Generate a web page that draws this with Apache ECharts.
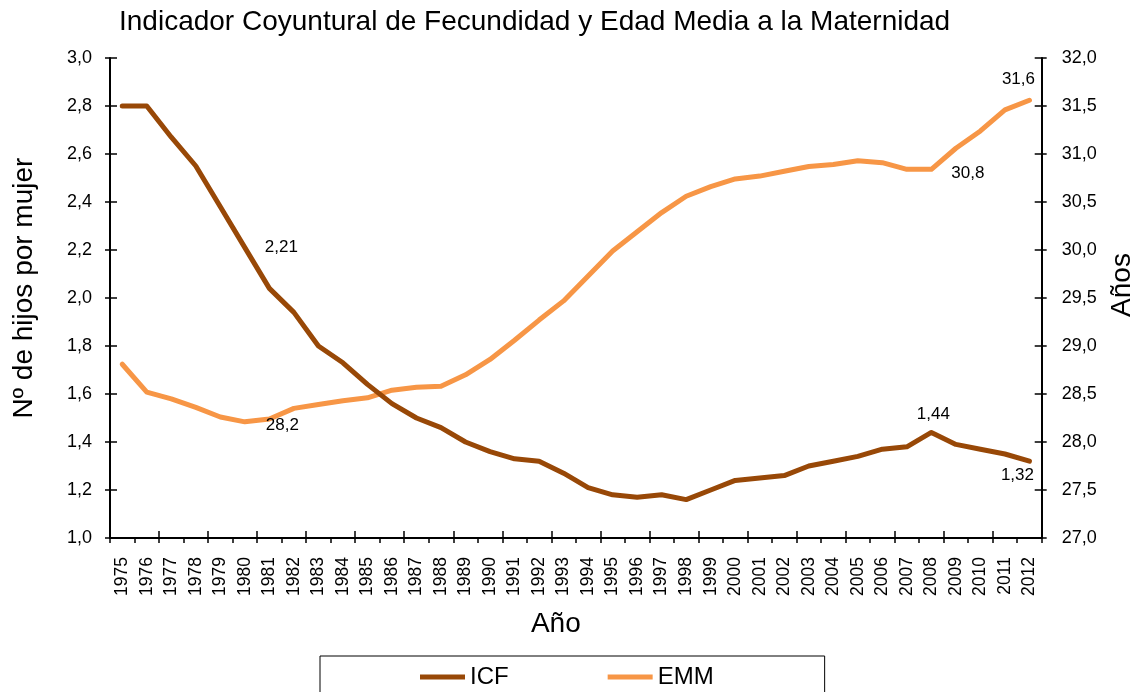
<!DOCTYPE html>
<html>
<head>
<meta charset="utf-8">
<script src="https://cdn.jsdelivr.net/npm/echarts@6/dist/echarts.min.js"></script>
<style>html,body{margin:0;padding:0;background:#fff;overflow:hidden}#c{width:1136px;height:692px}</style>
</head>
<body>
<div id="c"></div>
<script>
const years = ['1975','1976','1977','1978','1979','1980','1981','1982','1983','1984','1985','1986','1987','1988','1989','1990','1991','1992','1993','1994','1995','1996','1997','1998','1999','2000','2001','2002','2003','2004','2005','2006','2007','2008','2009','2010','2011','2012'];
const icf = [2.80,2.80,2.67,2.55,2.38,2.21,2.04,1.94,1.80,1.73,1.64,1.56,1.50,1.46,1.40,1.36,1.33,1.32,1.27,1.21,1.18,1.17,1.18,1.16,1.20,1.24,1.25,1.26,1.30,1.32,1.34,1.37,1.38,1.44,1.39,1.37,1.35,1.32];
const emm = [28.81,28.52,28.45,28.36,28.26,28.21,28.24,28.35,28.39,28.43,28.46,28.54,28.57,28.58,28.70,28.86,29.06,29.27,29.47,29.73,29.99,30.19,30.39,30.56,30.66,30.74,30.77,30.82,30.87,30.89,30.93,30.91,30.84,30.84,31.06,31.24,31.46,31.56];
const icfLabelYears = ['1980','2008','2012'];
const emmLabelYears = ['1980','2008','2012'];

const FONT = '"Liberation Sans", Arial, sans-serif';
const comma = (v, d) => v.toFixed(d).replace('.', ',');

// label placement (style only)
const labelPos = {
  icf: { '1980': {pos:[20,0], align:'left', va:'middle'},
         '2008': {pos:[2,-18], align:'center', va:'middle'},
         '2012': {pos:[-12,14], align:'center', va:'middle'} },
  emm: { '1980': {pos:[21,3], align:'left', va:'middle'},
         '2008': {pos:[20,4], align:'left', va:'middle'},
         '2012': {pos:[-11,-21], align:'center', va:'middle'} }
};

function buildData(vals, key, labelYears, dec) {
  return vals.map((v, i) => {
    const y = years[i];
    if (labelYears.indexOf(y) >= 0) {
      const p = labelPos[key][y];
      return { value: v, label: { show: true, position: p.pos, align: p.align, verticalAlign: p.va,
        formatter: () => comma(v, dec), color: '#000', fontSize: 17, fontFamily: FONT } };
    }
    return { value: v };
  });
}

const chart = echarts.init(document.getElementById('c'), null, {renderer: 'canvas'});
const axisLineStyle = { color: '#000', width: 2 };
const xBase = { type: 'category', data: years, boundaryGap: true, position: 'bottom' };
const yLeftBase = { type: 'value', min: 1.0, max: 3.0, interval: 0.2, position: 'left' };
const yRightBase = { type: 'value', min: 27.0, max: 32.0, interval: 0.5, position: 'right' };

chart.setOption({
  animation: false,
  backgroundColor: '#fff',
  textStyle: { fontFamily: FONT, color: '#000' },
  title: {
    text: 'Indicador Coyuntural de Fecundidad y Edad Media a la Maternidad',
    left: 119, top: 8, padding: 0,
    textStyle: { fontFamily: FONT, fontSize: 28, fontWeight: 'normal', color: '#000' }
  },
  legend: {
    data: ['ICF', 'EMM'],
    left: 320, top: 656,
    padding: [9, 111, 30, 100],
    itemGap: 99,
    itemWidth: 45, itemHeight: 5,
    icon: 'rect',
    borderColor: '#000', borderWidth: 1,
    textStyle: { fontFamily: FONT, fontSize: 24, color: '#000' }
  },
  grid: { left: 110, right: 94.3, top: 58, bottom: 154, containLabel: false, outerBoundsMode: 'none' },
  xAxis: [
    Object.assign({}, xBase, {
      name: 'Año', nameLocation: 'middle', nameGap: 72,
      nameTextStyle: { fontFamily: FONT, fontSize: 28, color: '#000', padding: [0, 40, 0, 0] },
      axisLine: { lineStyle: axisLineStyle },
      axisTick: { show: true, inside: false, length: 5, lineStyle: { color: '#000', width: 1.5 } },
      axisLabel: { rotate: 90, interval: 0, margin: 19, fontSize: 17.5, fontFamily: FONT, color: '#000' },
      splitLine: { show: false }
    }),
    Object.assign({}, xBase, {
      axisLine: { show: false },
      axisTick: { show: true, inside: true, length: 7, lineStyle: { color: '#000', width: 1.5 } },
      axisLabel: { show: false },
      splitLine: { show: false }
    })
  ],
  yAxis: [
    Object.assign({}, yLeftBase, {
      name: 'Nº de hijos por mujer', nameLocation: 'middle', nameGap: 72, nameRotate: 90,
      nameTextStyle: { fontFamily: FONT, fontSize: 28, color: '#000', padding: [0, 0, 0, 20] },
      axisLine: { show: true, lineStyle: axisLineStyle },
      axisTick: { show: true, inside: false, length: 5, lineStyle: { color: '#000', width: 1.5 } },
      axisLabel: { margin: 18, fontSize: 18, fontFamily: FONT, color: '#000', formatter: v => comma(v, 1) },
      splitLine: { show: false }
    }),
    Object.assign({}, yRightBase, {
      name: 'Años', nameLocation: 'middle', nameGap: 67, nameRotate: 90,
      nameTextStyle: { fontFamily: FONT, fontSize: 28, color: '#000', padding: [0, 0, 0, 26] },
      axisLine: { show: true, lineStyle: axisLineStyle },
      axisTick: { show: true, inside: false, length: 5, lineStyle: { color: '#000', width: 1.5 } },
      axisLabel: { margin: 20, fontSize: 18, fontFamily: FONT, color: '#000', formatter: v => comma(v, 1) },
      splitLine: { show: false }
    }),
    Object.assign({}, yLeftBase, {
      axisLine: { show: false },
      axisTick: { show: true, inside: true, length: 7, lineStyle: { color: '#000', width: 1.5 } },
      axisLabel: { show: false }, splitLine: { show: false }
    }),
    Object.assign({}, yRightBase, {
      axisLine: { show: false },
      axisTick: { show: true, inside: true, length: 7, lineStyle: { color: '#000', width: 1.5 } },
      axisLabel: { show: false }, splitLine: { show: false }
    })
  ],
  series: [
    {
      name: 'ICF', type: 'line', xAxisIndex: 0, yAxisIndex: 0,
      data: buildData(icf, 'icf', icfLabelYears, 2),
      symbol: 'circle', symbolSize: 0.01, showSymbol: true, showAllSymbol: true,
      itemStyle: { color: '#984807' },
      lineStyle: { color: '#984807', width: 5, cap: 'round', join: 'round' },
      emphasis: { disabled: true }, z: 3
    },
    {
      name: 'EMM', type: 'line', xAxisIndex: 0, yAxisIndex: 1,
      data: buildData(emm, 'emm', emmLabelYears, 1),
      symbol: 'circle', symbolSize: 0.01, showSymbol: true, showAllSymbol: true,
      itemStyle: { color: '#F79646' },
      lineStyle: { color: '#F79646', width: 5, cap: 'round', join: 'round' },
      emphasis: { disabled: true }, z: 2
    }
  ]
});
</script>
</body>
</html>
